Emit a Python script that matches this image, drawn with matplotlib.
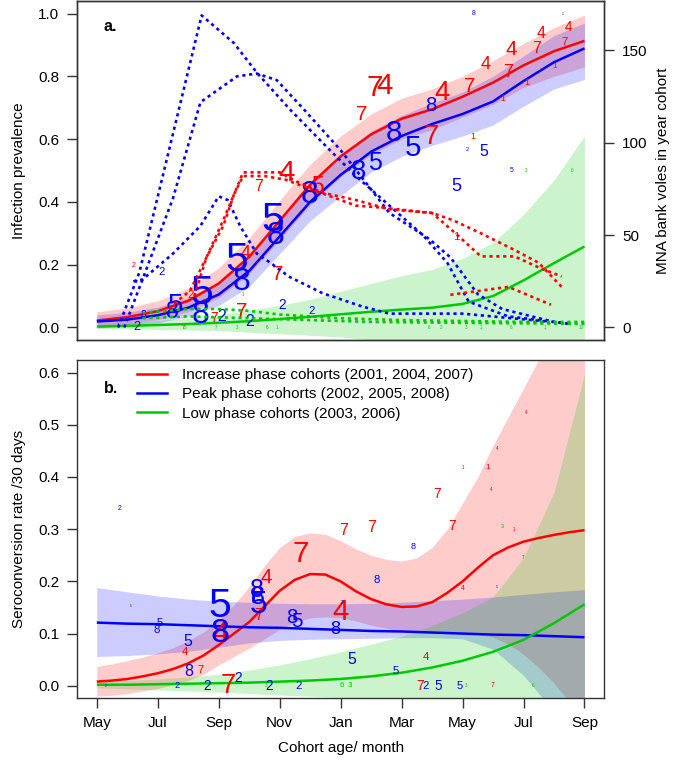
import numpy as np
import matplotlib
matplotlib.use("Agg")
import matplotlib.pyplot as plt
from matplotlib.lines import Line2D

plt.rcParams['font.family'] = ['Liberation Sans', 'DejaVu Sans']

# ---- data ----------------------------------------------------------------
months = np.arange(17)  # months since 1 May
half_months = np.arange(33) / 2
month_ticks = [0, 2, 4, 6, 8, 10, 12, 14, 16]
month_labels = ['May', 'Jul', 'Sep', 'Nov', 'Jan', 'Mar', 'May', 'Jul', 'Sep']

# panel a: infection prevalence fits
prev_inc = [0.022, 0.033, 0.052, 0.085, 0.14, 0.225, 0.34, 0.455, 0.545, 0.615, 0.665, 0.695, 0.735, 0.78, 0.835, 0.88, 0.913]
prev_inc_hi = [0.05, 0.062, 0.085, 0.125, 0.19, 0.285, 0.405, 0.52, 0.61, 0.68, 0.73, 0.76, 0.8, 0.85, 0.905, 0.955, 0.995]
prev_inc_lo = [0.0, 0.01, 0.025, 0.05, 0.095, 0.17, 0.28, 0.39, 0.48, 0.55, 0.6, 0.63, 0.67, 0.71, 0.765, 0.8, 0.83]
prev_peak = [0.019, 0.025, 0.039, 0.063, 0.105, 0.18, 0.29, 0.4, 0.486, 0.56, 0.61, 0.648, 0.68, 0.72, 0.785, 0.845, 0.889]
prev_peak_hi = [0.04, 0.048, 0.065, 0.095, 0.145, 0.23, 0.345, 0.46, 0.55, 0.625, 0.675, 0.715, 0.75, 0.8, 0.865, 0.93, 0.97]
prev_peak_lo = [-0.002, 0.005, 0.015, 0.035, 0.07, 0.13, 0.235, 0.34, 0.42, 0.495, 0.545, 0.58, 0.61, 0.645, 0.705, 0.76, 0.79]
prev_low = [0.003, 0.005, 0.008, 0.011, 0.015, 0.02, 0.027, 0.034, 0.042, 0.05, 0.057, 0.063, 0.075, 0.1, 0.15, 0.205, 0.258]
prev_low_hi = [0.01, 0.015, 0.022, 0.03, 0.04, 0.055, 0.07, 0.09, 0.115, 0.14, 0.165, 0.185, 0.22, 0.27, 0.36, 0.47, 0.61]
prev_low_lo = [-0.004, -0.005, -0.006, -0.008, -0.01, -0.015, -0.02, -0.025, -0.03, -0.04, -0.05, -0.06, -0.07, -0.07, -0.07, -0.06, -0.05]

# panel a: MNA per cohort (right axis)
mna_peak_m = [[0.7, 1.4, 3.44, 4.5, 5.25, 6.34, 7.65, 8.5, 9.6, 10.7, 11.5, 12.2, 13.5, 15.0, 15.5],
              [0.9, 1.5, 2.5, 3.4, 4.6, 5.25, 5.9, 6.8, 8.0, 9.6, 10.9, 11.6, 12.5, 13.3, 15.0, 15.6],
              [1.2, 1.5, 2.5, 3.4, 4.0, 4.3, 4.7, 5.25, 5.7, 6.3, 7.4, 8.7, 9.6, 12.0, 14.7]]
mna_peak_v = [[0, 30, 169, 154, 138, 118, 96, 82, 66, 50, 35, 14, 6, 3, 2],
              [0, 26, 70, 122, 136, 137.5, 134, 118, 96, 62, 48, 38, 18, 10, 3, 2],
              [25, 26, 40, 55, 71, 69, 55, 40, 35, 27.6, 18.6, 11.4, 7.5, 7.5, 3.3]]
mna_inc_m = [[2.2, 3.06, 3.6, 4.15, 4.5, 4.8, 5.5, 6.0, 6.56, 7.4, 8.5, 9.6, 11.0, 11.7, 12.6, 13.7, 14.5, 15.25],
             [3.2, 3.6, 4.2, 4.5, 4.8, 5.5, 6.2, 7.0, 8.5, 9.3, 11.0, 11.7, 12.6, 13.7, 14.5, 15.25],
             [11.6, 13.5, 14.9]]
mna_inc_v = [[8, 20, 38, 55, 72, 84, 84, 84, 79, 73, 69, 64, 62, 58, 51, 42, 35, 22],
             [17, 38, 60, 72, 82, 82, 80, 75, 66, 65, 62, 52, 38.5, 38.5, 32.5, 27.6],
             [17.7, 22, 12.3]]
mna_low_m = [[1.5, 3.0, 4.0, 5.0, 6.0, 8.0, 10.0, 12.0, 14.0, 16.0],
             [1.5, 3.0, 5.0, 7.0, 9.0, 12.0, 16.0]]
mna_low_v = [[8, 10, 10, 9, 7, 5, 4, 3.5, 3, 3],
             [5, 6, 5, 4, 3, 2.5, 2]]

# panel a: observed prevalence per cohort and session (label, month, value, group, n)
a_lab = ['7', '4', '7', '4', '7', '4', '4', '7', '1', '1', '4', '7', '4', '7', '1', '1', '1', '7', '7', '4',
         '7', '4', '7', '7', '2', '4', '7', '5', '2',
         '8', '1', '8', '8', '5', '2', '5', '5', '5', '8', '5', '8', '5', '8', '5', '8', '5', '8', '5', '8',
         '2', '2', '2', '2', '2', '8', '2', '1',
         '3', '6', '1', '3', '7', '3', '6', '1', '6', '3', '3', '1', '6', '1', '10']
a_m = [9.12, 9.43, 8.69, 11.31, 12.24, 12.76, 13.6, 13.5, 13.33, 14.1, 14.59, 14.43, 15.46, 15.35, 15.03, 12.33, 11.78, 10.98, 5.95, 6.21,
       4.75, 4.9, 3.85, 5.3, 3.06, 3.55, 2.83, 7.25, 1.2,
       12.35, 15.3, 10.95, 9.75, 10.38, 12.15, 12.7, 11.8, 13.6, 8.58, 9.12, 6.99, 5.79, 5.85, 4.59, 4.75, 3.44, 3.39, 2.57, 2.47,
       4.1, 5.03, 6.07, 7.05, 2.13, 1.53, 1.31, 0.7,
       14.08, 15.6, 4.8, 2.9, 3.9, 4.6, 5.6, 5.9, 10.9, 11.3, 12.1, 12.6, 13.6, 14.7, 15.9]
a_v = [0.762, 0.77, 0.677, 0.746, 0.769, 0.838, 0.885, 0.811, 0.73, 0.779, 0.936, 0.889, 0.957, 0.91, 0.83, 0.607, 0.287, 0.607, 0.168, 0.491,
       0.051, 0.237, 0.03, 0.45, 0.104, 0.078, 0.0, 0.45, 0.196,
       1.0, 1.0, 0.708, 0.618, 0.571, 0.568, 0.56, 0.448, 0.5, 0.496, 0.523, 0.422, 0.343, 0.29, 0.215, 0.146, 0.109, 0.04, 0.067, 0.05,
       0.035, 0.019, 0.072, 0.051, 0.178, 0.04, 0.0, 0.005,
       0.5, 0.5, 0.104, 0.0, 0.0, 0.0, 0.0, 0.0, 0.0, 0.0, 0.0, 0.0, 0.0, 0.0, 0.0]
a_grp = ['inc'] * 29 + ['peak'] * 28 + ['low'] * 15
a_n = [26, 26, 18, 24, 18, 16, 18, 16, 8, 8, 14, 14, 12, 10, 7, 8, 10, 24, 18, 26,
       18, 16, 12, 14, 10, 7, 5, 20, 6,
       6, 3, 18, 26, 26, 5, 14, 16, 6, 24, 22, 28, 36, 28, 36, 28, 36, 28, 24, 20,
       14, 14, 12, 10, 10, 9, 11, 4,
       4, 4, 4, 4, 4, 4, 4, 4, 4, 4, 4, 4, 4, 4, 4]

# panel b: seroconversion rate fits (increase phase read every half month)
sero_inc = [0.008, 0.01, 0.013, 0.018, 0.024, 0.032, 0.043, 0.058, 0.078, 0.1, 0.122, 0.152, 0.182, 0.203, 0.214, 0.213,
            0.2, 0.181, 0.166, 0.156, 0.151, 0.152, 0.16, 0.178, 0.2, 0.226, 0.25, 0.265, 0.276, 0.283, 0.289, 0.294, 0.298]
sero_inc_hi = [0.037, 0.042, 0.048, 0.055, 0.063, 0.073, 0.086, 0.103, 0.125, 0.155, 0.19, 0.23, 0.265, 0.286, 0.293, 0.29,
               0.278, 0.262, 0.25, 0.242, 0.239, 0.245, 0.265, 0.3, 0.35, 0.4, 0.46, 0.515, 0.57, 0.625, 0.69, 0.78, 0.88]
sero_inc_lo = [-0.02, -0.018, -0.015, -0.01, -0.005, 0.002, 0.01, 0.022, 0.04, 0.056, 0.072, 0.09, 0.108, 0.122, 0.13, 0.132,
               0.13, 0.124, 0.116, 0.11, 0.105, 0.102, 0.1, 0.1, 0.1, 0.098, 0.093, 0.08, 0.06, 0.035, 0.005, -0.03, -0.06]
sero_peak = [0.121, 0.119, 0.118, 0.116, 0.114, 0.112, 0.111, 0.109, 0.107, 0.105, 0.104, 0.102, 0.1, 0.098, 0.097, 0.095, 0.093]
sero_peak_hi = [0.188, 0.18, 0.172, 0.166, 0.162, 0.16, 0.158, 0.157, 0.157, 0.158, 0.16, 0.163, 0.166, 0.17, 0.175, 0.18, 0.184]
sero_peak_lo = [0.056, 0.058, 0.061, 0.066, 0.074, 0.082, 0.087, 0.089, 0.09, 0.091, 0.092, 0.092, 0.09, 0.07, 0.02, -0.05, -0.12]
sero_low = [0.002, 0.002, 0.003, 0.004, 0.005, 0.006, 0.008, 0.01, 0.013, 0.018, 0.025, 0.035, 0.048, 0.065, 0.088, 0.12, 0.156]
sero_low_hi = [0.008, 0.01, 0.013, 0.017, 0.022, 0.03, 0.04, 0.052, 0.065, 0.08, 0.095, 0.115, 0.14, 0.17, 0.245, 0.37, 0.597]
sero_low_lo = [-0.004, -0.006, -0.008, -0.01, -0.012, -0.015, -0.018, -0.02, -0.022, -0.025, -0.028, -0.03, -0.03, -0.03, -0.03, -0.03, -0.03]

# panel b: observed seroconversion (label, month, value, group, n)
b_lab = ['7', '7', '7', '4', '4', '1', '1', '4', '7', '4', '7', '4', '7', '1', '4', '7', '4', '7', '7', '4', '4', '7', '7',
         '2', '5', '5', '8', '5', '8', '5', '8', '8', '5', '8', '8', '5', '2', '8', '8', '5', '5', '8', '5',
         '2', '2', '2', '2', '2', '2', '5', '5', '2',
         '6', '3', '3', '3', '6', '3']
b_m = [11.15, 9.0, 11.64, 12.93, 13.12, 12.02, 12.82, 14.1, 6.68, 5.56, 8.08, 8.0, 13.99, 13.7, 12.02, 4.3, 2.9, 3.4, 5.3, 4.05, 10.8, 10.6, 13.0,
       0.76, 1.13, 2.08, 1.98, 3.0, 3.0, 4.05, 4.05, 5.26, 5.3, 5.28, 6.4, 6.55, 8.05, 9.17, 7.81, 8.38, 9.82, 10.37, 13.13,
       2.63, 3.62, 4.63, 5.65, 6.63, 10.8, 11.2, 11.9, 0.3,
       8.05, 8.3, 13.3, 12.1, 14.3, 5.55]
b_v = [0.367, 0.304, 0.306, 0.376, 0.454, 0.419, 0.419, 0.524, 0.252, 0.208, 0.298, 0.142, 0.245, 0.3, 0.187, 0.0, 0.065, 0.03, 0.135, 0.1, 0.055, 0.0, 0.0,
       0.34, 0.153, 0.121, 0.106, 0.085, 0.028, 0.152, 0.1, 0.184, 0.155, 0.17, 0.13, 0.123, 0.16, 0.203, 0.108, 0.051, 0.028, 0.266, 0.19,
       0.0, 0.0, 0.015, 0.0, 0.0, 0.0, 0.0, 0.0, 0.0,
       0.0, 0.0, 0.305, 0.0, 0.0, 0.0]
b_grp = ['inc'] * 23 + ['peak'] * 20 + ['peak'] * 9 + ['low'] * 6
b_n = [12, 14, 12, 4, 4, 4, 7, 4, 26, 18, 14, 26, 4, 4, 6, 24, 10, 10, 14, 26, 10, 12, 6,
       6, 3, 10, 10, 14, 14, 36, 30, 22, 28, 22, 18, 18, 4, 10, 16, 14, 10, 8, 3,
       8, 12, 12, 12, 10, 10, 12, 10, 3,
       7, 7, 5, 4, 4, 4]

legend_labels = ['Increase phase cohorts (2001, 2004, 2007)',
                 'Peak phase cohorts (2002, 2005, 2008)',
                 'Low phase cohorts (2003, 2006)']

# ---- style ---------------------------------------------------------------
col = {'inc': '#ff0000', 'peak': '#0000ff', 'low': '#00c800'}
fill_alpha = 0.2
fs = 11

fig = plt.figure(figsize=(6.75, 7.7), dpi=100)
ax_a = fig.add_axes([0.1145, 0.5584, 0.7803, 0.4403])
ax_b = fig.add_axes([0.1145, 0.0931, 0.7803, 0.4394])


def draw_fits(ax, fits):
    for key, xs, mid, lo, hi in fits:
        ax.fill_between(xs, lo, hi, color=col[key], alpha=fill_alpha, lw=0)
    for key, xs, mid, lo, hi in fits:
        ax.plot(xs, mid, color=col[key], lw=1.8, solid_capstyle='butt')


def draw_digits(ax, labs, ms, vs, grps, ns):
    for lab, m, v, g, n in zip(labs, ms, vs, grps, ns):
        ax.text(m, v, lab, color=col[g], fontsize=0.82 * n, ha='center', va='center')


# panel a
draw_fits(ax_a, [('inc', months, prev_inc, prev_inc_lo, prev_inc_hi),
                 ('peak', months, prev_peak, prev_peak_lo, prev_peak_hi),
                 ('low', months, prev_low, prev_low_lo, prev_low_hi)])
draw_digits(ax_a, a_lab, a_m, a_v, a_grp, a_n)
ax_a.set_xlim(-0.64, 16.64)
ax_a.set_ylim(-0.04, 1.04)
ax_a.set_xticks([])
ax_a.set_yticks([0, 0.2, 0.4, 0.6, 0.8, 1.0])
ax_a.set_yticklabels(['0.0', '0.2', '0.4', '0.6', '0.8', '1.0'])
ax_a.set_ylabel('Infection prevalence', fontsize=fs, labelpad=9)
ax_a.text(0.05, 0.925, 'a.', transform=ax_a.transAxes, fontsize=11.5, fontweight='bold', ha='left', va='center')

ax_r = ax_a.twinx()
dot = (0, (1.2, 1.4))
for ms, vs in zip(mna_peak_m, mna_peak_v):
    ax_r.plot(ms, vs, color=col['peak'], lw=1.9, ls=dot)
for ms, vs in zip(mna_inc_m, mna_inc_v):
    ax_r.plot(ms, vs, color=col['inc'], lw=1.9, ls=dot)
for ms, vs in zip(mna_low_m, mna_low_v):
    ax_r.plot(ms, vs, color=col['low'], lw=1.9, ls=dot)
ax_r.set_ylim(-6.8, 176.8)
ax_r.set_yticks([0, 50, 100, 150])
ax_r.set_ylabel('MNA bank voles in year cohort', fontsize=fs, labelpad=6)

# panel b
draw_fits(ax_b, [('inc', half_months, sero_inc, sero_inc_lo, sero_inc_hi),
                 ('peak', months, sero_peak, sero_peak_lo, sero_peak_hi),
                 ('low', months, sero_low, sero_low_lo, sero_low_hi)])
draw_digits(ax_b, b_lab, b_m, b_v, b_grp, b_n)
ax_b.set_xlim(-0.64, 16.64)
ax_b.set_ylim(-0.024, 0.624)
ax_b.set_xticks(month_ticks)
ax_b.set_xticklabels(month_labels)
ax_b.set_yticks([0, 0.1, 0.2, 0.3, 0.4, 0.5, 0.6])
ax_b.set_yticklabels(['0.0', '0.1', '0.2', '0.3', '0.4', '0.5', '0.6'])
ax_b.set_ylabel('Seroconversion rate /30 days', fontsize=fs, labelpad=9)
ax_b.set_xlabel('Cohort age/ month', fontsize=fs, labelpad=8)
ax_b.text(0.05, 0.915, 'b.', transform=ax_b.transAxes, fontsize=11.5, fontweight='bold', ha='left', va='center')

handles = [Line2D([], [], color=col[k], lw=1.8) for k in ('inc', 'peak', 'low')]
ax_b.legend(handles, legend_labels, loc='upper left', bbox_to_anchor=(0.113, 0.975),
            frameon=False, fontsize=fs, handlelength=2.0, handletextpad=0.95,
            labelspacing=0.33, borderpad=0, borderaxespad=0)

for ax in (ax_a, ax_b, ax_r):
    ax.tick_params(labelsize=fs, length=7, width=1, color='#333333', pad=6)
    for s in ax.spines.values():
        s.set_color('#333333')
        s.set_linewidth(1)

fig.savefig('out.png', dpi=100)
